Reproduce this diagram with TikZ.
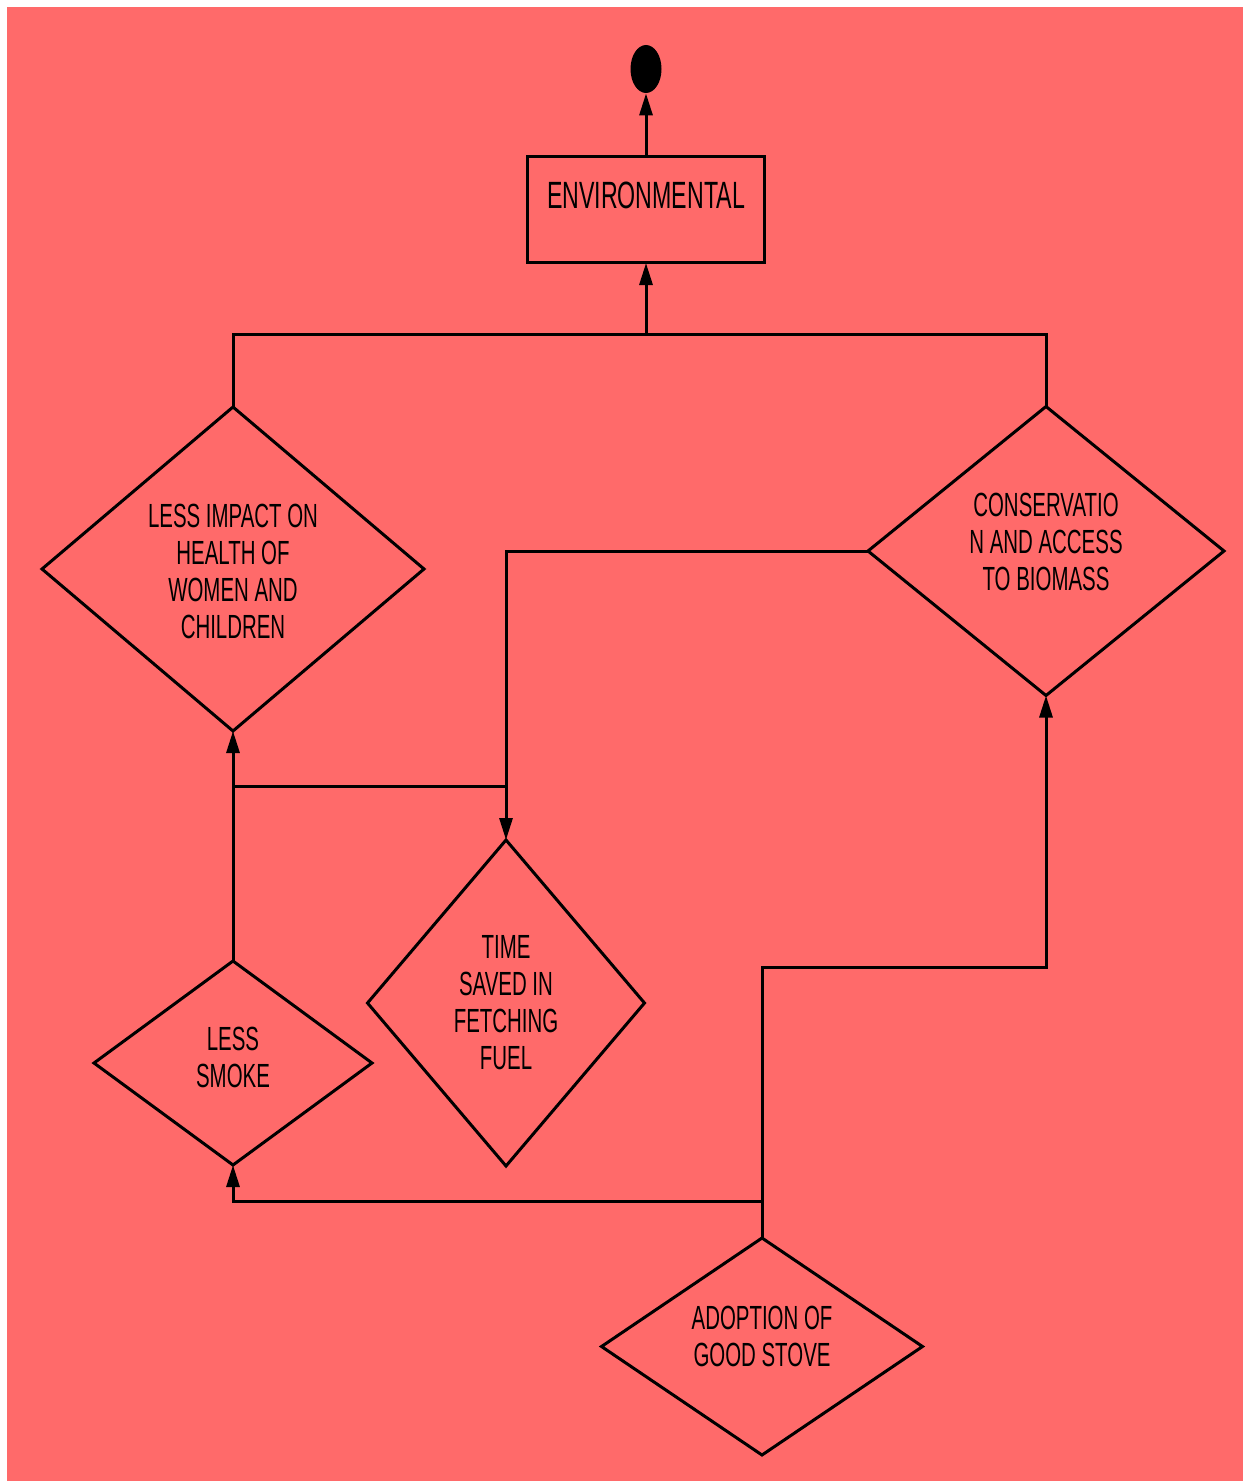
\documentclass[tikz,border=0pt]{standalone}
\usepackage{fontspec}
\setmainfont{Liberation Sans}[FakeStretch=0.61]
\usetikzlibrary{arrows.meta,shapes.geometric}
\definecolor{salmon}{HTML}{FF6A6A}

\begin{document}
\begin{tikzpicture}[x=0.5pt, y=-0.5pt, >={Triangle[length=11pt,width=6.5pt]},
    every node/.style={font=\fontsize{16.75}{18.5}\selectfont, align=center},
    decision/.style={diamond, draw, line width=1.5pt, inner sep=0pt, outer sep=0pt},
    envbox/.style={rectangle, draw, line width=1.5pt, inner sep=0pt, outer sep=0pt},
    link/.style={line width=1.5pt}]
    % Background
    \fill[white] (0,0) rectangle (1244,1482);
    \useasboundingbox (0,0) rectangle (1244,1482);
    \fill[salmon] (7,7) rectangle (1243,1481);

    % Goal and top box
    \node[ellipse, fill=black, minimum width=15.5pt, minimum height=24pt, inner sep=0pt] (goal) at (646,69) {};
    \node[envbox, minimum width=118.5pt, minimum height=53pt,
      label={[yshift=7.5pt, font=\fontsize{19}{21}\selectfont]center:ENVIRONMENTAL}] (env) at (646,210) {};

    % Decisions
    \node[decision, minimum width=191pt, minimum height=162pt,
      label={[yshift=-1pt]center:{LESS IMPACT ON\\HEALTH OF\\WOMEN AND\\CHILDREN}}] (health) at (233,569) {};
    \node[decision, minimum width=178pt, minimum height=144.5pt,
      label={[yshift=4.75pt]center:{CONSERVATIO\\N AND ACCESS\\TO BIOMASS}}] (cons) at (1046,551) {};
    \node[decision, minimum width=138.5pt, minimum height=163pt,
      label={center:{TIME\\SAVED IN\\FETCHING\\FUEL}}] (time) at (506,1003) {};
    \node[decision, minimum width=139pt, minimum height=102pt,
      label={[yshift=3pt]center:{LESS\\SMOKE}}] (smoke) at (233,1063) {};
    \node[decision, minimum width=160.5pt, minimum height=108.5pt,
      label={[yshift=5pt]center:{ADOPTION OF\\GOOD STOVE}}] (stove) at (762,1346.5) {};

    % Junction points
    \coordinate (bus) at (646,334);
    \coordinate (fork) at (233,786);
    \coordinate (split) at (762,1201);
    \coordinate (turn) at (762,967);

    % Connectors
    \draw[link, ->] (env.north) -- (goal.south);
    \draw[link] (health.north) |- (bus) -| (cons.north);
    \draw[link, ->] (bus) -- (env.south);
    \draw[link, ->] (cons.west) -| (time.north);
    \draw[link] (fork) -- (fork -| time.north);
    \draw[link, ->] (smoke.north) -- (health.south);
    \draw[link] (stove.north) -- (split);
    \draw[link, ->] (split) -| (smoke.south);
    \draw[link, ->] (split) -- (turn) -| (cons.south);
\end{tikzpicture}
\end{document}
